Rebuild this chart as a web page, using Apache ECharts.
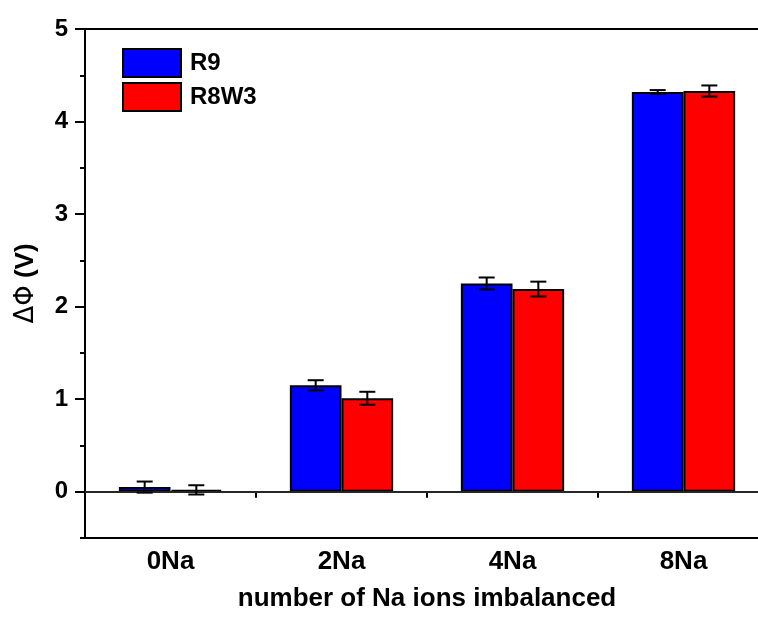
<!DOCTYPE html>
<html>
<head>
<meta charset="utf-8">
<script src="https://cdn.jsdelivr.net/npm/echarts@6/dist/echarts.min.js"></script>
<style>
html,body{margin:0;padding:0;background:#fff;}
#chart{width:758px;height:619px;}
</style>
</head>
<body>
<div id="chart"></div>
<script>
var categories = ['0Na', '2Na', '4Na', '8Na'];
var r9Values = [0.05, 1.15, 2.25, 4.32];
var r9Errors = [0.06, 0.055, 0.065, 0.02];
var r8w3Values = [0.02, 1.01, 2.19, 4.33];
var r8w3Errors = [0.05, 0.07, 0.08, 0.06];
var yTickLabels = ['0', '1', '2', '3', '4', '5'];

var FONT = '"Liberation Sans", Arial, sans-serif';
var BAR_RATIO = 0.302;

function errData(vals, errs) {
  return vals.map(function (v, i) { return [i, v, errs[i]]; });
}

function errRender(side) {
  return function (params, api) {
    var idx = api.value(0), v = api.value(1), e = api.value(2);
    var band = api.size([1, 0])[0];
    var bw = band * BAR_RATIO;
    var c = api.coord([idx, v]);
    var x = c[0] + side * bw / 2;
    var top = api.coord([idx, v + e])[1];
    var bot = api.coord([idx, v - e])[1];
    var cap = 8;
    var st = { stroke: '#000', lineWidth: 2 };
    return {
      type: 'group',
      children: [
        { type: 'line', shape: { x1: x, y1: top, x2: x, y2: bot }, style: st },
        { type: 'line', shape: { x1: x - cap, y1: top, x2: x + cap, y2: top }, style: st },
        { type: 'line', shape: { x1: x - cap, y1: bot, x2: x + cap, y2: bot }, style: st }
      ]
    };
  };
}

var chart = echarts.init(document.getElementById('chart'), null, { renderer: 'canvas' });
chart.setOption({
  animation: false,
  backgroundColor: '#fff',
  textStyle: { fontFamily: FONT },
  grid: [
    { left: 85, width: 684, top: 29, height: 509, containLabel: false, outerBoundsMode: 'none',
      show: true, borderColor: '#000', borderWidth: 2, backgroundColor: 'transparent' },
    { left: 85, width: 684, top: 29, height: 462.7, containLabel: false, outerBoundsMode: 'none' }
  ],
  legend: {
    data: ['R9', 'R8W3'],
    orient: 'vertical',
    left: 122, top: 48, padding: 0,
    itemWidth: 58, itemHeight: 28, itemGap: 4,
    icon: 'rect',
    itemStyle: { borderColor: '#000', borderWidth: 2 },
    textStyle: { fontFamily: FONT, fontWeight: 'bold', fontSize: 24, color: '#000', padding: [0, 0, 0, 4] }
  },
  xAxis: [
    {
      type: 'category', gridIndex: 0, data: categories,
      axisLine: { lineStyle: { color: '#000', width: 2 } },
      axisTick: { show: true, length: 6, lineStyle: { color: '#000', width: 2 } },
      axisLabel: { fontFamily: FONT, fontWeight: 'bold', fontSize: 26, color: '#000', margin: 11 },
      name: 'number of Na ions imbalanced',
      nameLocation: 'middle', nameGap: 48,
      nameTextStyle: { fontFamily: FONT, fontWeight: 'bold', fontSize: 26, color: '#000' }
    },
    { type: 'value', gridIndex: 1, show: false, min: 0, max: 1 }
  ],
  yAxis: [
    {
      type: 'value', gridIndex: 0, min: -0.5, max: 5, interval: 0.5,
      axisLine: { show: true, lineStyle: { color: '#000', width: 2 } },
      axisTick: { show: true, length: 5, lineStyle: { color: '#000', width: 2 } },
      axisLabel: { show: false },
      splitLine: { show: false },
      name: '{s|ΔΦ} {b|(V)}',
      nameLocation: 'middle', nameGap: 46, nameRotate: 90,
      nameTextStyle: {
        color: '#000', fontSize: 26,
        rich: {
          s: { fontFamily: '"DejaVu Sans", ' + FONT, fontSize: 26, fontWeight: 'normal', color: '#000' },
          b: { fontFamily: FONT, fontSize: 26, fontWeight: 'bold', color: '#000' }
        }
      }
    },
    {
      type: 'value', gridIndex: 1, min: 0, max: 5, interval: 1,
      axisLine: { show: false },
      axisTick: { show: true, length: 10, lineStyle: { color: '#000', width: 2 } },
      axisLabel: {
        fontFamily: FONT, fontWeight: 'bold', fontSize: 24, color: '#000', margin: 17,
        formatter: function (v) { return yTickLabels[Math.round(v)]; }
      },
      splitLine: { show: false }
    }
  ],
  series: [
    {
      name: 'R9', type: 'bar', xAxisIndex: 0, yAxisIndex: 0,
      data: r9Values, barWidth: (BAR_RATIO * 100) + '%', barGap: '0%',
      itemStyle: { color: '#0000ff', borderColor: '#000', borderWidth: 2 },
      markLine: {
        silent: true, symbol: 'none', label: { show: false },
        lineStyle: { color: '#333', width: 1.5, type: 'solid' },
        data: [{ yAxis: 0 }]
      }
    },
    {
      name: 'R8W3', type: 'bar', xAxisIndex: 0, yAxisIndex: 0,
      data: r8w3Values, barWidth: (BAR_RATIO * 100) + '%', barGap: '0%',
      itemStyle: { color: '#ff0000', borderColor: '#000', borderWidth: 2 }
    },
    {
      name: 'errR9', type: 'custom', xAxisIndex: 0, yAxisIndex: 0, z: 5,
      data: errData(r9Values, r9Errors), renderItem: errRender(-1),
      encode: { x: 0, y: 1 }
    },
    {
      name: 'errR8W3', type: 'custom', xAxisIndex: 0, yAxisIndex: 0, z: 5,
      data: errData(r8w3Values, r8w3Errors), renderItem: errRender(1),
      encode: { x: 0, y: 1 }
    }
  ]
});
</script>
</body>
</html>
